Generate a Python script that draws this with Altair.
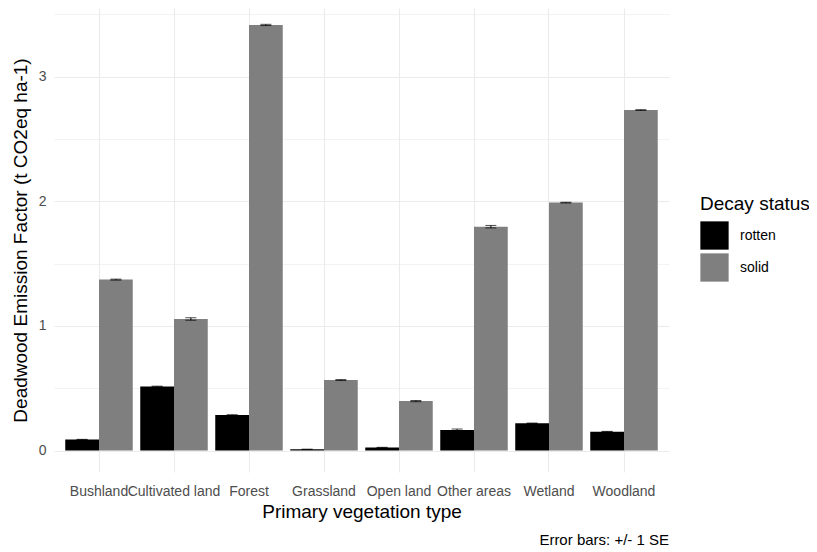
import altair as alt
import pandas as pd

veg = ["Bushland", "Cultivated land", "Forest", "Grassland", "Open land",
       "Other areas", "Wetland", "Woodland"]
status = ["rotten", "solid"]
rotten = [0.088, 0.514, 0.285, 0.010, 0.024, 0.165, 0.219, 0.152]
solid = [1.372, 1.056, 3.416, 0.566, 0.397, 1.797, 1.990, 2.733]
rotten_se = [0.002, 0.003, 0.003, 0.001, 0.002, 0.008, 0.002, 0.002]
solid_se = [0.004, 0.010, 0.005, 0.004, 0.005, 0.010, 0.003, 0.003]
y_ticks = [0, 0.5, 1, 1.5, 2, 2.5, 3, 3.5]
caption = "Error bars: +/- 1 SE"

rows = []
for i, v in enumerate(veg):
    for s, vals, ses in (("rotten", rotten, rotten_se), ("solid", solid, solid_se)):
        rows.append({"veg": v, "status": s, "value": vals[i],
                     "lo": vals[i] - ses[i], "hi": vals[i] + ses[i]})
df = pd.DataFrame(rows)

FONT = "Liberation Sans"

x_enc = alt.X("veg:N", sort=veg,
              scale=alt.Scale(paddingInner=0.1, paddingOuter=0.15),
              axis=alt.Axis(title="Primary vegetation type", labelAngle=0,
                            labelOverlap=False, ticks=False, domain=False,
                            grid=True, bandPosition=0.5, tickExtra=False,
                            gridColor="#EBEBEB",
                            gridWidth=1.1, labelFontSize=14, labelColor="#4D4D4D",
                            labelPadding=12, titleFontSize=19, titleFontWeight="normal",
                            titleColor="#000000", titlePadding=4, labelFont=FONT,
                            titleFont=FONT))
xo_enc = alt.XOffset("status:N", sort=status,
                     scale=alt.Scale(paddingInner=0, paddingOuter=0))
y_scale = alt.Scale(domain=[-0.172, 3.552], nice=False, zero=False)

base = alt.Chart(df)

bars = base.mark_bar().encode(
    x=x_enc,
    xOffset=xo_enc,
    y=alt.Y("value:Q", scale=y_scale,
            axis=alt.Axis(title="Deadwood Emission Factor (t CO2eq ha-1)",
                          values=y_ticks,
                          labelExpr="datum.value % 1 === 0 ? format(datum.value, 'd') : ''",
                          ticks=False, domain=False, gridColor="#EBEBEB",
                          gridWidth={"condition": {"test": "datum.value % 1 !== 0", "value": 0.6},
                                     "value": 1.1},
                          labelFontSize=14, labelColor="#4D4D4D", labelPadding=8,
                          titleFontSize=19, titleFontWeight="normal",
                          titleColor="#000000", titlePadding=8,
                          labelFont=FONT, titleFont=FONT)),
    color=alt.Color("status:N", sort=status,
                    scale=alt.Scale(domain=status, range=["#000000", "#7F7F7F"]),
                    legend=alt.Legend(title="Decay status", orient="none",
                                      legendX=646, legendY=187, symbolType="square",
                                      symbolSize=800, symbolStrokeWidth=0,
                                      labelFontSize=14, labelColor="#000000",
                                      labelOffset=11, rowPadding=3, padding=0,
                                      titleFontSize=19, titleFontWeight="normal",
                                      titleColor="#000000", titlePadding=7,
                                      labelFont=FONT, titleFont=FONT)),
)

err_rule = base.mark_rule(color="black", strokeWidth=1).encode(
    x=alt.X("veg:N", sort=veg), xOffset=xo_enc,
    y=alt.Y("lo:Q", scale=y_scale), y2="hi:Q")
cap_lo = base.mark_tick(color="black", size=11, thickness=1, orient="horizontal").encode(
    x=alt.X("veg:N", sort=veg), xOffset=xo_enc, y=alt.Y("lo:Q", scale=y_scale))
cap_hi = base.mark_tick(color="black", size=11, thickness=1, orient="horizontal").encode(
    x=alt.X("veg:N", sort=veg), xOffset=xo_enc, y=alt.Y("hi:Q", scale=y_scale))

cap_text = alt.Chart(pd.DataFrame({"t": [caption]})).mark_text(
    align="right", baseline="alphabetic", fontSize=15, font=FONT, color="#000000"
).encode(text="t:N", x=alt.value(615), y=alt.value(537))

chart = alt.layer(bars, err_rule, cap_lo, cap_hi, cap_text).properties(
    width=615, height=464,
    autosize=alt.AutoSizeParams(type="none"),
    padding={"left": 46, "top": 0, "right": 140, "bottom": 84},
).configure_view(stroke=None)

chart.save("out.html", embed_options={"renderer": "svg", "actions": False})
